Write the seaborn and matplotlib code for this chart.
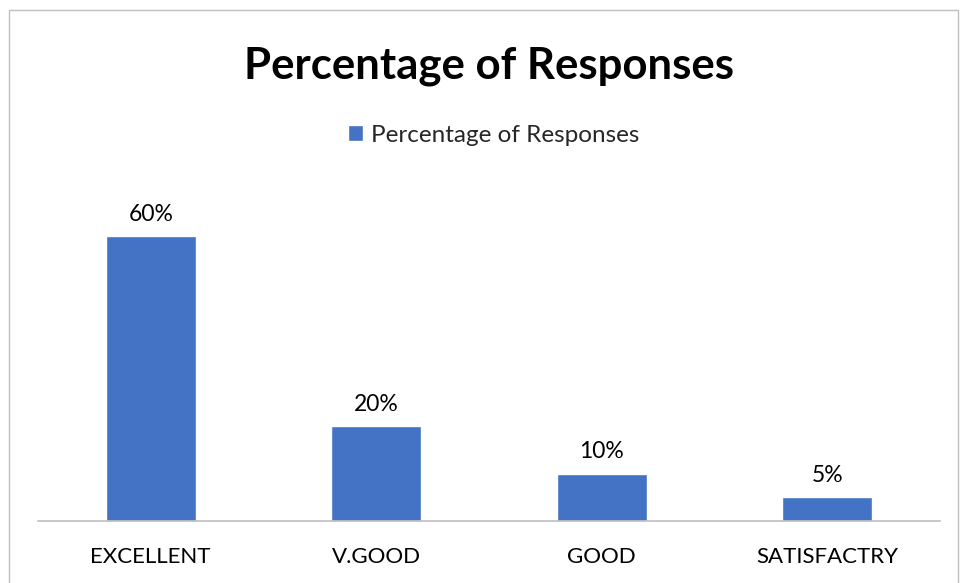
import matplotlib
matplotlib.use("Agg")
import matplotlib.pyplot as plt
import seaborn as sns
from matplotlib.patches import Rectangle

categories = ["EXCELLENT", "V.GOOD", "GOOD", "SATISFACTRY"]
percentages = [60, 20, 10, 5]
series_name = "Percentage of Responses"

sns.set_theme(style="white")
plt.rcParams["font.family"] = ["Lato", "DejaVu Sans"]

fig = plt.figure(figsize=(9.6, 5.83), dpi=100)
ax = fig.add_axes([38 / 960, 62 / 583, 902 / 960, 332.5 / 583])

sns.barplot(x=categories, y=percentages, color="#4472C4", width=0.4,
            saturation=1, label=series_name, ax=ax)

for c in ax.containers:
    ax.bar_label(c, labels=[f"{v}%" for v in percentages], padding=8,
                 fontsize=16.5, color="#000000")

ax.set_ylim(0, 70)
ax.set_yticks([])
ax.set_xlabel("")
ax.set_ylabel("")
for s in ["top", "right", "left"]:
    ax.spines[s].set_visible(False)
ax.spines["bottom"].set_color("#BFBFBF")
ax.spines["bottom"].set_linewidth(1.2)
ax.tick_params(axis="x", length=0, pad=19, labelsize=16, colors="#000000")

fig.text(489 / 960, 1 - 66 / 583, "Percentage of Responses", ha="center",
         va="center", fontsize=31.5, fontweight="bold", color="#000000")

leg = ax.legend(loc="center", bbox_to_anchor=(494 / 960, 1 - 135 / 583),
                bbox_transform=fig.transFigure, frameon=False, fontsize=17.5,
                handlelength=0.6, handleheight=0.6, handletextpad=0.35)

fig.patches.append(Rectangle((9 / 960, -0.01), 949 / 960, 1 - 10 / 583 + 0.01,
                             transform=fig.transFigure, fill=False,
                             edgecolor="#BFBFBF", linewidth=1))

fig.savefig("out.png", dpi=100)
